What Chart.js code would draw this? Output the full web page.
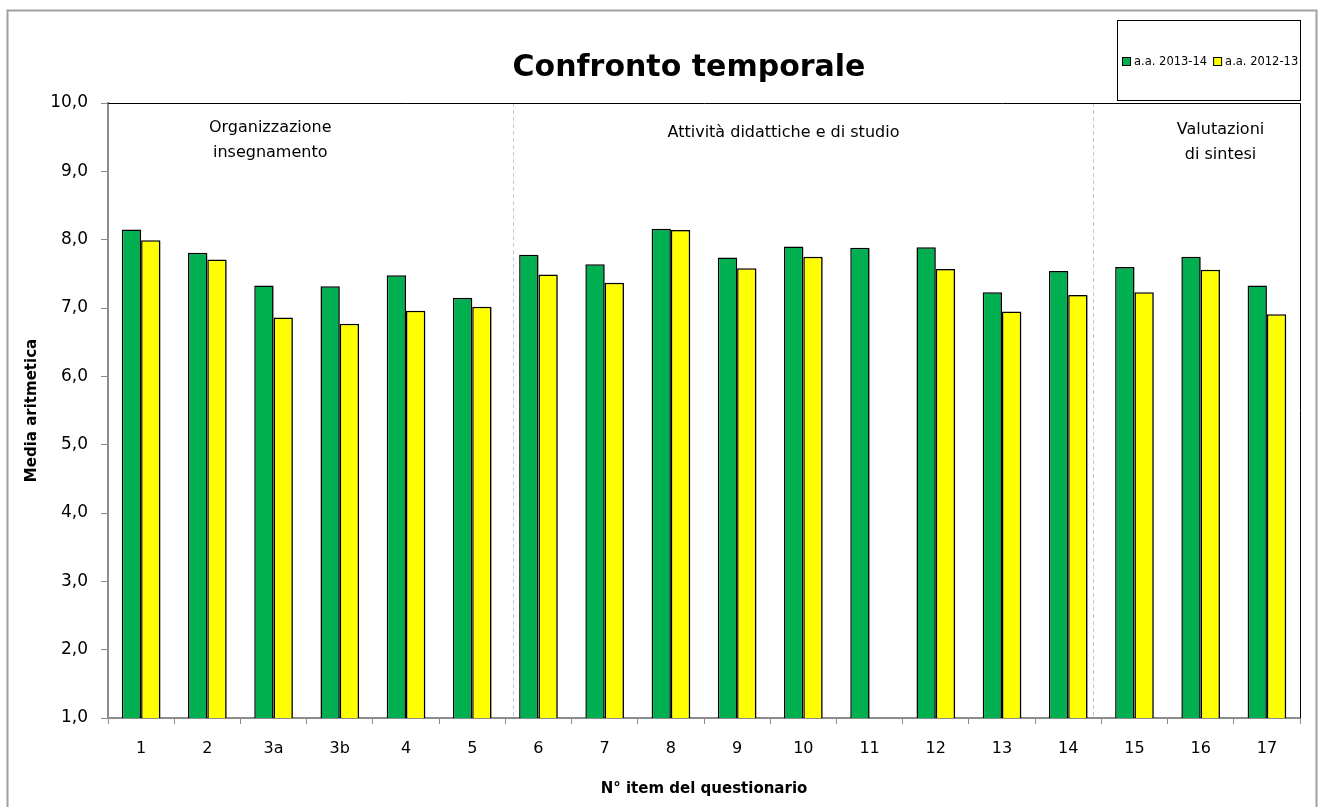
<!DOCTYPE html>
<html>
<head>
<meta charset="utf-8">
<script src="https://cdn.jsdelivr.net/npm/chart.js@4"></script>
<style>
  html, body { margin: 0; padding: 0; background: #fff; }
  #wrap { width: 1325px; height: 807px; }
</style>
</head>
<body>
<div id="wrap"><canvas id="chart" width="1325" height="807"></canvas></div>
<script>
// items of the questionnaire
const items = ['1', '2', '3a', '3b', '4', '5', '6', '7', '8', '9', '10', '11', '12', '13', '14', '15', '16', '17'];
// mean values per academic year
const year1314 = [8.15, 7.81, 7.33, 7.32, 7.48, 7.15, 7.78, 7.64, 8.16, 7.74, 7.90, 7.88, 7.89, 7.23, 7.54, 7.60, 7.75, 7.33];
const year1213 = [7.99, 7.71, 6.86, 6.77, 6.96, 7.02, 7.49, 7.37, 8.14, 7.58, 7.75, null, 7.57, 6.95, 7.19, 7.23, 7.56, 6.91];
const seriesLabels = ['a.a. 2013-14', 'a.a. 2012-13'];
// section headings
const sections = [['Organizzazione', 'insegnamento'], ['Attività didattiche e di studio'], ['Valutazioni', 'di sintesi']];

const FONT = '"Comic Sans MS", "DejaVu Sans", sans-serif';

// where the section text and the dashed separators go (category units / value units)
const sectionAt = [[1.95, 9.63], [9.7, 9.56], [16.3, 9.6]];
const dividerAt = [5.62, 14.38];

const decor = {
  id: 'decor',
  beforeDraw(chart) {
    const ctx = chart.ctx;
    ctx.save();
    ctx.fillStyle = '#fff';
    ctx.fillRect(0, 0, chart.width, chart.height);
    ctx.restore();
  },
  beforeDatasetsDraw(chart) {
    const ctx = chart.ctx;
    ctx.save();
    ctx.shadowColor = 'rgba(0,0,0,0.3)';
    ctx.shadowOffsetX = 2;
    ctx.shadowOffsetY = 1;
    ctx.shadowBlur = 0;
  },
  afterDatasetsDraw(chart) {
    const ctx = chart.ctx;
    ctx.restore();
    const x = chart.scales.x, y = chart.scales.y, area = chart.chartArea;

    ctx.save();
    // dashed separators
    ctx.strokeStyle = '#c8c8c8';
    ctx.lineWidth = 1;
    ctx.setLineDash([4, 3]);
    dividerAt.forEach(v => {
      const px = Math.round(x.getPixelForValue(v)) + 0.5;
      ctx.beginPath();
      ctx.moveTo(px, area.top);
      ctx.lineTo(px, area.bottom);
      ctx.stroke();
    });
    ctx.setLineDash([]);

    // plot border top and right
    ctx.strokeStyle = '#000';
    ctx.beginPath();
    ctx.moveTo(area.left, area.top + 0.5);
    ctx.lineTo(area.right + 0.5, area.top + 0.5);
    ctx.lineTo(area.right + 0.5, area.bottom);
    ctx.stroke();

    // section headings
    ctx.fillStyle = '#000';
    ctx.font = '16px ' + FONT;
    ctx.textAlign = 'center';
    ctx.textBaseline = 'middle';
    sections.forEach((lines, i) => {
      const cx = x.getPixelForValue(sectionAt[i][0]);
      const cy = y.getPixelForValue(sectionAt[i][1]);
      lines.forEach((t, j) => ctx.fillText(t, cx, cy + j * 25));
    });
    ctx.restore();
  },
  afterDraw(chart) {
    const ctx = chart.ctx;
    ctx.save();
    // outer frame
    ctx.strokeStyle = '#a0a0a0';
    ctx.lineWidth = 2;
    ctx.strokeRect(7.5, 10.5, 1309, 800);

    // title
    ctx.fillStyle = '#000';
    ctx.font = 'bold 30px ' + FONT;
    ctx.textAlign = 'center';
    ctx.textBaseline = 'middle';
    ctx.fillText('Confronto temporale', 689, 68);

    // legend box
    ctx.lineWidth = 1;
    ctx.strokeStyle = '#000';
    ctx.strokeRect(1117.5, 20.5, 183, 80);
    ctx.font = '11.5px ' + FONT;
    ctx.textAlign = 'left';
    let lx = 1122;
    chart.data.datasets.forEach(ds => {
      ctx.fillStyle = ds.backgroundColor;
      ctx.fillRect(lx, 57, 9, 9);
      ctx.strokeRect(lx + 0.5, 57.5, 8, 8);
      ctx.fillStyle = '#000';
      ctx.fillText(ds.label, lx + 12, 62);
      lx += 12 + ctx.measureText(ds.label).width + 6;
    });
    ctx.restore();
  }
};

new Chart(document.getElementById('chart'), {
  type: 'bar',
  data: {
    labels: items,
    datasets: [{
      label: seriesLabels[0],
      data: year1314,
      backgroundColor: '#00B050',
      borderColor: '#000',
      borderWidth: 1.5
    }, {
      label: seriesLabels[1],
      data: year1213,
      backgroundColor: '#FFFF00',
      borderColor: '#000',
      borderWidth: 1.5
    }]
  },
  options: {
    responsive: false,
    animation: false,
    layout: { padding: { left: 0, right: 25, top: 103, bottom: 0 } },
    datasets: { bar: { categoryPercentage: 0.583, barPercentage: 1.0 } },
    plugins: {
      legend: { display: false },
      title: { display: false },
      tooltip: { enabled: false }
    },
    scales: {
      x: {
        afterFit(s) { s.height = 89; },
        grid: { drawOnChartArea: false, drawTicks: true, tickLength: 6, color: '#8c8c8c', offset: true },
        border: { color: '#8c8c8c', width: 2 },
        ticks: { color: '#000', font: { family: FONT, size: 16 }, padding: 15, maxRotation: 0 },
        title: {
          display: true,
          text: 'N° item del questionario',
          color: '#000',
          font: { family: FONT, size: 15, weight: 'bold' },
          padding: { top: 0, bottom: 9 }
        }
      },
      y: {
        min: 1,
        max: 10,
        afterFit(s) { s.width = 108; },
        grid: { drawOnChartArea: false, drawTicks: true, tickLength: 7, color: '#8c8c8c' },
        border: { color: '#8c8c8c', width: 2 },
        ticks: {
          stepSize: 1,
          color: '#000',
          padding: 13,
          font: { family: FONT, size: 17 },
          callback: v => v.toFixed(1).replace('.', ',')
        },
        title: {
          display: true,
          text: 'Media aritmetica',
          color: '#000',
          font: { family: FONT, size: 15, weight: 'bold' },
          padding: { top: 23, bottom: 0 }
        }
      }
    }
  },
  plugins: [decor]
});
</script>
</body>
</html>
